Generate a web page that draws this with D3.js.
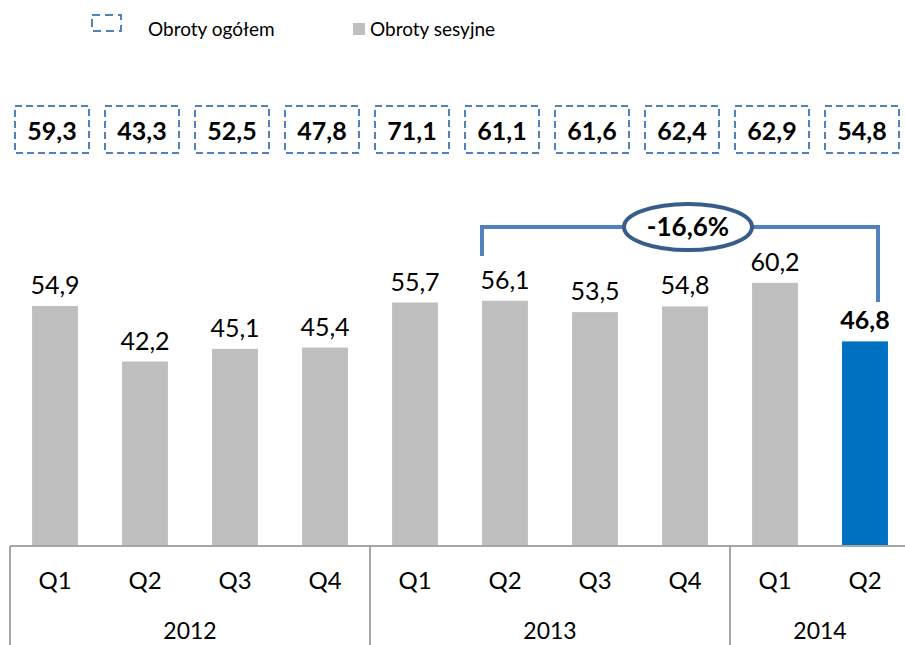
<!DOCTYPE html>
<html lang="pl">
<head>
  <meta charset="UTF-8">
  <title>Obroty</title>
  <script src="https://d3js.org/d3.v7.min.js"></script>
  <style>
    body { margin: 0; background: #fff; }
    text { font-family: Lato, "Open Sans", sans-serif; }
  </style>
</head>
<body>
  <div id="my_dataviz"></div>
  <script>

    // data
    var quarters = ["Q1", "Q2", "Q3", "Q4", "Q1", "Q2", "Q3", "Q4", "Q1", "Q2"];
    var years = ["2012", "2013", "2014"];
    var yearSpan = [4, 4, 2];
    var sesyjne = [54.9, 42.2, 45.1, 45.4, 55.7, 56.1, 53.5, 54.8, 60.2, 46.8];
    var ogolem = [59.3, 43.3, 52.5, 47.8, 71.1, 61.1, 61.6, 62.4, 62.9, 54.8];
    var changeLabel = "-16,6%";

    var width = 905, height = 645;
    var axisY = 546;
    var fmt = function (v) { return v.toFixed(1).replace(".", ","); };

    var svg = d3.select("#my_dataviz")
      .append("svg")
      .attr("width", width)
      .attr("height", height);

    var ids = d3.range(quarters.length);
    var x = d3.scaleBand()
      .domain(ids)
      .range([10, 910])
      .paddingInner(0.49)
      .paddingOuter(0.245);

    var y = d3.scaleLinear()
      .domain([0, 54.9])
      .range([axisY, 306]);

    // bars
    svg.append("g")
      .selectAll("rect")
      .data(sesyjne)
      .enter()
      .append("rect")
      .attr("x", function (d, i) { return x(i); })
      .attr("y", function (d) { return y(d); })
      .attr("width", x.bandwidth())
      .attr("height", function (d) { return axisY - y(d); })
      .style("fill", function (d, i) { return i === sesyjne.length - 1 ? "#0070c0" : "#bfbfbf"; });

    // bar labels
    svg.append("g")
      .selectAll("text")
      .data(sesyjne)
      .enter()
      .append("text")
      .attr("x", function (d, i) { return x(i) + x.bandwidth() / 2; })
      .attr("y", function (d) { return y(d) - 12; })
      .attr("text-anchor", "middle")
      .style("font-size", "25px")
      .style("font-weight", function (d, i) { return i === sesyjne.length - 1 ? "bold" : "normal"; })
      .style("fill", "#000")
      .text(fmt);

    // category axis
    var step = x.step();
    svg.append("line")
      .attr("x1", 10).attr("x2", 910)
      .attr("y1", axisY).attr("y2", axisY)
      .style("stroke", "#a6a6a6").style("stroke-width", 2);

    svg.append("g")
      .selectAll("text")
      .data(quarters)
      .enter()
      .append("text")
      .attr("x", function (d, i) { return x(i) + x.bandwidth() / 2; })
      .attr("y", 589)
      .attr("text-anchor", "middle")
      .style("font-size", "24px")
      .text(function (d) { return d; });

    var start = 0;
    years.forEach(function (yr, k) {
      var x0 = 10 + start * step;
      var x1 = x0 + yearSpan[k] * step;
      svg.append("line")
        .attr("x1", x0).attr("x2", x0)
        .attr("y1", axisY).attr("y2", height)
        .style("stroke", "#a6a6a6").style("stroke-width", 2);
      svg.append("text")
        .attr("x", (x0 + x1) / 2)
        .attr("y", 639)
        .attr("text-anchor", "middle")
        .style("font-size", "23px")
        .text(yr);
      start += yearSpan[k];
    });

    // dashed boxes with total turnover
    var boxes = svg.append("g")
      .selectAll("g")
      .data(ogolem)
      .enter()
      .append("g")
      .attr("transform", function (d, i) {
        return "translate(" + (x(i) + x.bandwidth() / 2 - 3) + ",0)";
      });
    boxes.append("rect")
      .attr("x", -37).attr("y", 106)
      .attr("width", 74).attr("height", 47)
      .style("fill", "none")
      .style("stroke", "#4f81bd")
      .style("stroke-width", 2)
      .style("stroke-dasharray", "7,4");
    boxes.append("text")
      .attr("x", 0).attr("y", 140)
      .attr("text-anchor", "middle")
      .style("font-size", "25px")
      .style("font-weight", "bold")
      .text(fmt);

    // bracket between 2013 Q2 and 2014 Q2
    var a = 5, b = 9;
    var xa = x(a) + x.bandwidth() / 2 - 23, xb = x(b) + x.bandwidth() / 2 + 13;
    svg.append("path")
      .attr("d", "M" + xa + ",256 V227 H" + xb + " V302")
      .style("fill", "none")
      .style("stroke", "#4f81bd")
      .style("stroke-width", 4);
    svg.append("ellipse")
      .attr("cx", 688).attr("cy", 227)
      .attr("rx", 64).attr("ry", 23)
      .style("fill", "#fff")
      .style("stroke", "#385d8a")
      .style("stroke-width", 4);
    svg.append("text")
      .attr("x", 688).attr("y", 236)
      .attr("text-anchor", "middle")
      .style("font-size", "26px")
      .style("font-weight", "bold")
      .text(changeLabel);

    // legend
    var lg = svg.append("g");
    lg.append("rect")
      .attr("x", 92).attr("y", 15).attr("width", 29).attr("height", 16)
      .style("fill", "none").style("stroke", "#4f81bd").style("stroke-width", 2)
      .style("stroke-dasharray", "8,5");
    lg.append("text")
      .attr("x", 148).attr("y", 36)
      .style("font-size", "19px")
      .text("Obroty ogółem");
    lg.append("rect")
      .attr("x", 353).attr("y", 23).attr("width", 12).attr("height", 12)
      .style("fill", "#bfbfbf");
    lg.append("text")
      .attr("x", 370).attr("y", 36)
      .style("font-size", "19px")
      .text("Obroty sesyjne");

  </script>
</body>
</html>
